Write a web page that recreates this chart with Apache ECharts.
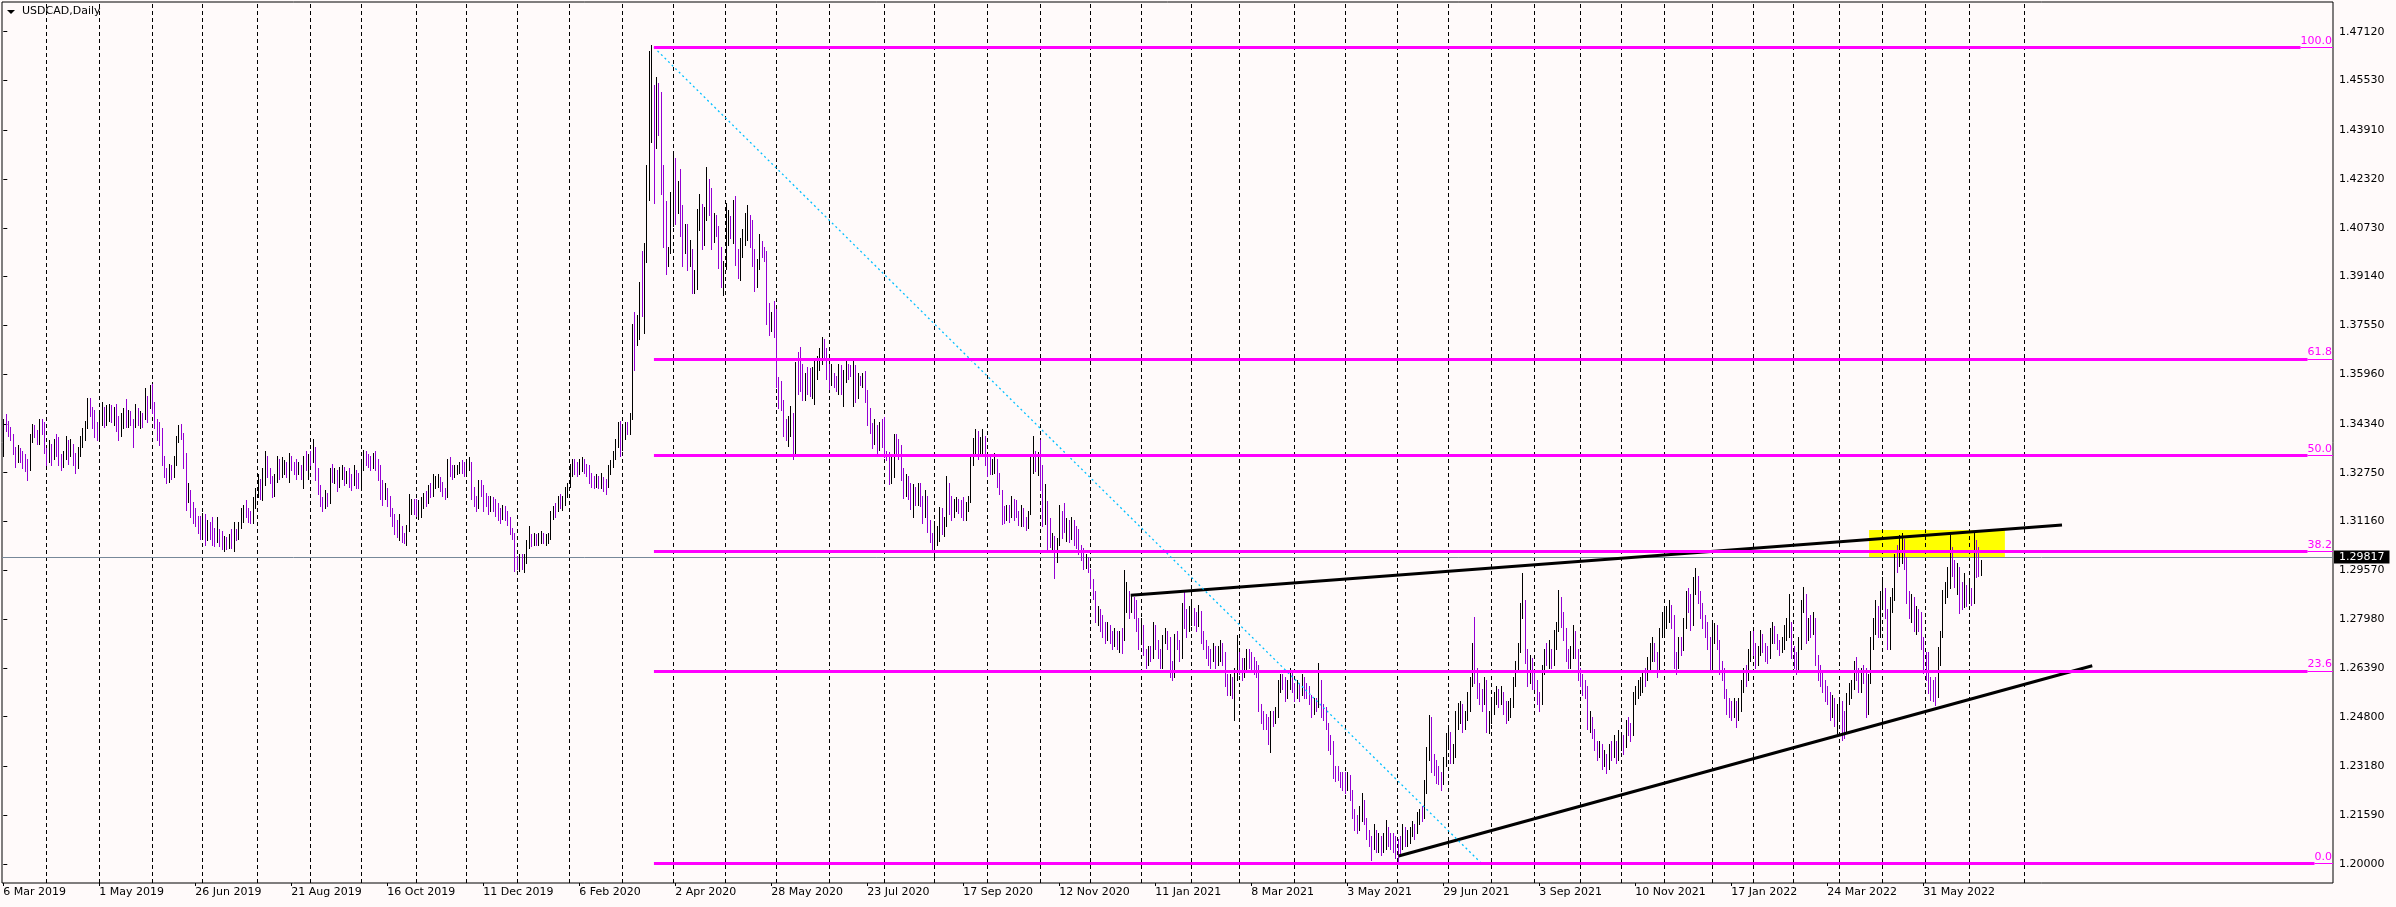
<!DOCTYPE html>
<html>
<head>
<meta charset="utf-8">
<title>USDCAD,Daily</title>
<script src="https://cdn.jsdelivr.net/npm/echarts@6/dist/echarts.min.js"></script>
<style>
html,body{margin:0;padding:0;background:#FFFAFA;}
#chart{width:2396px;height:907px;}
</style>
</head>
<body>
<div id="chart"></div>
<script>
// ================= DATA =================
const symbolTitle = 'USDCAD,Daily';
// time-scale labels, one every 40 bars starting at bar 0
const dateLabels = ['6 Mar 2019','1 May 2019','26 Jun 2019','21 Aug 2019','16 Oct 2019','11 Dec 2019','6 Feb 2020','2 Apr 2020','28 May 2020','23 Jul 2020','17 Sep 2020','12 Nov 2020','11 Jan 2021','8 Mar 2021','3 May 2021','29 Jun 2021','3 Sep 2021','10 Nov 2021','17 Jan 2022','24 Mar 2022','31 May 2022'];
const labelStep = 40;
// price-scale labels
const priceTickLabels = ['1.20000','1.21590','1.23180','1.24800','1.26390','1.27980','1.29570','1.31160','1.32750','1.34340','1.35960','1.37550','1.39140','1.40730','1.42320','1.43910','1.45530','1.47120'];
// bar index of each monthly period separator (Apr 2019 ... Aug 2022)
const monthStartBars = [18,40,62,83,106,128,149,172,193,214,236,258,279,301,322,344,367,388,410,432,453,474,495,515,538,559,581,602,620,638,657,674,692,712,729,746,765,783,801,819,842];

// Daily bars: [close, high, low] in pips above 1.20000 ; open = previous close
const firstOpenPips = 1335;
const bars2019 = [
// Mar
[1440,1450,1330],[1430,1467,1410],[1415,1445,1395],[1395,1425,1380],[1345,1400,1335],[1325,1360,1295],[1350,1365,1310],[1330,1355,1310],[1315,1345,1290],[1305,1335,1280],[1290,1320,1250],[1385,1400,1285],[1420,1435,1375],[1405,1430,1390],[1380,1415,1370],[1435,1450,1370],[1430,1450,1400],[1350,1440,1340],
// Apr
[1320,1355,1300],[1365,1380,1310],[1330,1370,1300],[1360,1385,1320],[1350,1400,1330],[1315,1390,1300],[1300,1335,1285],[1325,1345,1295],[1360,1395,1320],[1345,1380,1305],[1360,1385,1330],[1320,1370,1300],[1295,1340,1275],[1340,1360,1290],[1375,1395,1330],[1395,1420,1360],[1430,1445,1380],[1505,1520,1420],[1480,1520,1460],[1450,1490,1420],[1420,1478,1390],[1400,1440,1380],
// May
[1450,1475,1390],[1470,1505,1430],[1440,1490,1425],[1460,1495,1430],[1480,1500,1445],[1455,1495,1440],[1465,1490,1430],[1430,1500,1410],[1400,1460,1380],[1440,1470,1395],[1470,1485,1420],[1440,1515,1425],[1460,1480,1425],[1445,1475,1430],[1430,1450,1360],[1470,1500,1425],[1440,1485,1430],[1460,1475,1420],[1450,1470,1425],[1525,1550,1480],[1500,1525,1440],[1545,1560,1485],[1500,1565,1470],
// Jun
[1440,1505,1420],[1410,1450,1380],[1380,1440,1365],[1330,1420,1300],[1270,1330,1260],[1255,1290,1240],[1290,1305,1245],[1270,1300,1255],[1310,1330,1262],[1380,1395,1300],[1410,1430,1375],[1400,1435,1385],[1330,1405,1290],[1200,1340,1155],[1220,1240,1180],[1160,1215,1130],[1130,1180,1110],[1120,1160,1100],[1110,1135,1080],[1090,1135,1060],
// Jul
[1110,1145,1065],[1075,1140,1040],[1095,1120,1055],[1080,1115,1060],[1070,1130,1040],[1055,1095,1035],[1075,1130,1050],[1050,1090,1035],[1040,1085,1025],[1060,1070,1020],[1045,1065,1025],[1055,1075,1030],[1040,1090,1030],[1080,1115,1020],[1070,1090,1055],[1100,1115,1060],[1140,1160,1095],[1160,1170,1115],[1140,1185,1130],[1130,1160,1115],[1120,1150,1110],[1175,1195,1110],[1205,1225,1160],
// Aug
[1240,1270,1195],[1210,1255,1190],[1270,1290,1185],[1300,1345,1235],[1275,1330,1260],[1250,1290,1240],[1240,1265,1195],[1255,1270,1200],[1290,1330,1245],[1265,1320,1255],[1290,1325,1260],[1300,1315,1270],[1275,1310,1260],[1315,1340,1245],[1300,1330,1285],[1290,1310,1270],[1280,1320,1255],[1295,1310,1270],[1270,1300,1255],[1310,1330,1225],[1300,1345,1285],[1320,1335,1255],
// Sep
[1315,1345,1300],[1355,1385,1310],[1270,1360,1250],[1215,1290,1205],[1180,1235,1165],[1170,1195,1150],[1195,1220,1160],[1180,1210,1165],[1270,1290,1175],[1255,1305,1245],[1260,1290,1240],[1240,1285,1215],[1270,1295,1230],[1280,1300,1255],[1255,1295,1235],[1265,1280,1240],[1250,1290,1230],[1245,1270,1220],[1270,1300,1235],[1250,1285,1225],[1245,1275,1225],
// Oct
[1290,1320,1230],[1330,1348,1285],[1320,1345,1300],[1310,1335,1295],[1305,1330,1285],[1325,1340,1290],[1310,1345,1285],[1280,1320,1250],[1215,1300,1190],[1200,1250,1170],[1215,1240,1190],[1180,1225,1165],[1150,1200,1135],[1120,1160,1100],[1090,1140,1075],[1080,1120,1065],[1090,1140,1055],[1070,1100,1050],[1060,1080,1045],[1090,1105,1040],[1160,1205,1085],[1170,1190,1140],[1165,1190,1140],
// Nov
[1150,1190,1135],[1160,1185,1125],[1175,1195,1130],[1195,1210,1160],[1185,1215,1165],[1220,1235,1175],[1215,1240,1195],[1240,1270,1200],[1245,1265,1225],[1250,1270,1230],[1230,1260,1215],[1210,1245,1200],[1200,1225,1190],[1290,1320,1195],[1285,1325,1265],[1270,1300,1255],[1280,1300,1260],[1285,1300,1270],[1300,1310,1275],[1290,1315,1275],[1285,1310,1265],
// Dec
[1300,1320,1275],[1310,1325,1285],[1205,1310,1190],[1180,1230,1165],[1170,1200,1150],[1240,1250,1160],[1225,1250,1200],[1195,1235,1150],[1190,1210,1165],[1160,1200,1140],[1185,1200,1150],[1175,1195,1150],[1150,1190,1135],[1140,1175,1120],[1130,1160,1110],[1155,1170,1125],[1140,1165,1120],[1120,1150,1105],[1090,1130,1075],[1075,1095,1060],[985,1080,955]
];
const bars2020 = [
// Jan
[975,1005,960],[990,1010,955],[985,1010,960],[990,1010,951],[1040,1055,980],[1060,1100,1030],[1055,1075,1035],[1065,1080,1040],[1055,1075,1040],[1060,1080,1040],[1065,1085,1045],[1055,1080,1045],[1060,1075,1040],[1070,1080,1045],[1140,1150,1060],[1150,1165,1125],[1150,1175,1130],[1190,1200,1150],[1175,1205,1160],[1185,1200,1155],[1220,1230,1170],[1230,1240,1195],
// Feb
[1285,1305,1230],[1300,1320,1265],[1290,1320,1270],[1280,1310,1265],[1300,1320,1270],[1310,1325,1280],[1290,1320,1275],[1285,1305,1265],[1265,1300,1240],[1245,1275,1230],[1240,1265,1225],[1250,1270,1230],[1240,1265,1225],[1255,1275,1225],[1240,1260,1215],[1230,1255,1205],[1275,1300,1230],[1300,1315,1270],[1330,1345,1295],[1370,1385,1320],[1420,1440,1360],[1360,1445,1330],
// Mar
[1395,1420,1350],[1425,1440,1385],[1415,1440,1400],[1450,1470,1400],[1720,1760,1450],[1700,1798,1611],[1780,1790,1690],[1880,1897,1711],[1830,1997,1785],[1990,2022,1729],[2250,2277,1960],[2500,2650,2165],[2530,2669,2352],[2350,2538,2153],[2480,2563,2333],[2420,2545,2377],[2250,2514,2184],[2080,2277,2009],[1960,2159,1922],[2000,2009,1950],[2150,2190,1990],
// Apr
[2230,2320,2080],[2150,2300,2084],[2190,2227,2120],[2100,2265,2047],[1990,2146,1947],[2040,2084,1990],[1960,2084,1935],[1990,2034,1947],[1900,2003,1860],[1920,1935,1860],[2110,2134,1873],[2150,2184,2065],[2030,2140,2003],[2100,2140,2016],[2220,2271,2115],[2150,2233,2115],[2060,2202,2003],[2090,2121,2028],[2070,2115,2047],[1990,2078,1941],[1900,2009,1879],[1940,1966,1854],
// May
[2080,2153,2040],[2110,2130,2016],[2060,2110,2040],[2140,2165,2022],[1980,2177,1953],[1930,2003,1910],[2000,2040,1904],[2050,2070,1978],[2100,2121,2016],[2110,2146,2034],[2040,2115,2010],[1960,2097,1947],[1900,2003,1866],[1950,1972,1880],[2030,2053,1940],[2000,2025,1978],[1980,2009,1966],[1780,1997,1760],[1760,1829,1723],[1780,1800,1736],[1745,1835,1717],
// Jun
[1580,1810,1555],[1520,1586,1487],[1490,1574,1480],[1420,1512,1393],[1400,1449,1380],[1440,1460,1362],[1470,1493,1393],[1340,1470,1319],[1600,1636,1340],[1570,1667,1530],[1560,1686,1540],[1540,1630,1512],[1580,1599,1512],[1550,1620,1530],[1545,1615,1525],[1590,1620,1520],[1610,1640,1500],[1640,1655,1580],[1660,1680,1610],[1700,1717,1630],[1680,1710,1650],[1600,1665,1580],
// Jul
[1570,1630,1549],[1600,1630,1560],[1560,1590,1555],[1550,1590,1540],[1580,1630,1530],[1550,1625,1530],[1600,1610,1493],[1620,1640,1570],[1610,1630,1580],[1600,1625,1590],[1620,1648,1493],[1560,1625,1505],[1590,1600,1520],[1570,1590,1560],[1590,1600,1555],[1520,1605,1505],[1460,1543,1431],[1420,1487,1406],[1380,1437,1356],[1420,1450,1370],[1400,1430,1340],[1430,1440,1350],[1390,1450,1360],
// Aug
[1340,1455,1325],[1330,1345,1315],[1250,1343,1238],[1270,1330,1240],[1390,1400,1260],[1370,1400,1330],[1340,1385,1320],[1280,1365,1250],[1210,1290,1194],[1260,1270,1200],[1220,1265,1190],[1180,1240,1157],[1220,1238,1132],[1200,1230,1170],[1230,1240,1170],[1180,1240,1165],[1150,1200,1110],[1200,1220,1130],[1100,1180,1082],[1070,1120,1050],[1040,1080,1020],
// Sep
[1060,1119,989],[1070,1101,1040],[1140,1163,1051],[1095,1160,1075],[1110,1130,1070],[1220,1263,1100],[1160,1240,1140],[1140,1200,1120],[1170,1190,1130],[1185,1195,1150],[1160,1190,1145],[1150,1185,1130],[1130,1195,1120],[1170,1180,1120],[1180,1200,1150],[1300,1325,1182],[1340,1387,1300],[1360,1418,1340],[1330,1410,1320],[1350,1390,1330],[1380,1418,1340],[1320,1395,1300],
// Oct
[1290,1337,1263],[1280,1330,1270],[1310,1320,1270],[1320,1340,1275],[1250,1300,1230],[1220,1275,1207],[1140,1206,1107],[1130,1165,1110],[1150,1170,1120],[1140,1170,1115],[1180,1200,1130],[1170,1190,1120],[1140,1185,1130],[1120,1150,1105],[1150,1170,1100],[1110,1160,1100],[1095,1130,1088],[1140,1150,1110],[1320,1337,1169],[1340,1393,1275],[1320,1345,1280],[1335,1343,1269],
// Nov
[1240,1381,1219],[1160,1300,1101],[1180,1238,1107],[1100,1182,1026],[1060,1126,1032],[1070,1080,1020],[1010,1063,933],[1050,1063,983],[1140,1169,1040],[1130,1151,1063],[1090,1176,1082],[1100,1126,1051],[1080,1120,1050],[1110,1130,1060],[1080,1120,1040],[1060,1100,1030],[1040,1090,1010],[1010,1040,989],[980,1030,960],[990,1010,965],[960,1000,950],
// Dec
[920,960,900],[880,930,865],[800,890,790],[810,840,780],[790,830,760],[770,810,740],[745,790,720],[770,790,730],[740,780,720],[730,760,700],[745,770,710],[720,760,700],[745,760,690],[730,770,686],[850,958,730],[880,920,820],[840,890,800],[860,875,820],[845,870,800],[790,860,760],[725,800,700]
];
const bars2021 = [
// Jan
[770,800,730],[690,780,680],[660,700,640],[690,710,650],[680,710,660],[770,790,670],[710,780,700],[690,730,670],[650,700,640],[730,745,640],[750,770,720],[730,760,700],[630,740,610],[620,660,600],[740,750,610],[720,760,700],[680,730,660],[820,850,670],[790,887,770],[785,830,741],[810,840,760],
// Feb
[815,850,780],[800,835,780],[790,820,760],[820,845,775],[740,825,720],[720,760,700],[690,730,670],[680,710,650],[680,700,640],[700,720,660],[670,710,640],[690,710,650],[710,730,660],[680,720,650],[600,690,580],[580,620,550],[600,620,550],[570,610,540],[620,640,469],[690,746,600],
// Mar
[650,690,620],[620,670,600],[650,670,610],[680,700,630],[660,700,640],[660,690,630],[640,675,620],[640,660,610],[510,650,500],[480,520,460],[470,500,440],[470,490,440],[420,480,390],[480,500,365],[480,500,450],[490,510,460],[580,600,480],[600,620,560],[590,620,570],[550,610,530],[580,600,540],[620,640,570],[570,630,560],
// Apr
[560,590,530],[570,600,540],[560,590,530],[600,620,550],[560,610,540],[560,590,540],[540,580,520],[500,550,480],[520,540,490],[520,540,500],[590,654,510],[500,600,480],[500,520,470],[460,510,440],[390,460,370],[390,420,360],[300,400,280],[290,320,270],[290,320,274],[280,300,250],[270,300,240],
// May
[260,300,230],[280,300,240],[230,290,210],[170,240,150],[140,180,110],[120,160,100],[150,190,110],[200,230,140],[150,210,130],[100,150,80],[80,110,60],[60,90,13],[100,130,50],[60,110,40],[75,100,40],[50,90,30],[60,100,40],[120,143,50],[80,120,60],[70,100,50],[70,100,40],[65,90,20],
// Jun
[60,80,7],[60,90,30],[110,130,50],[80,120,60],[90,110,60],[100,120,70],[120,140,90],[100,130,80],[150,170,100],[160,180,130],[160,190,140],[240,274,150],[360,380,230],[470,486,339],[320,480,300],[320,360,290],[280,340,263],[280,320,260],[270,300,240],[330,350,260],[390,426,320],
// Jul
[420,450,380],[350,430,330],[360,390,330],[470,500,350],[480,523,440],[500,530,460],[450,520,430],[480,500,440],[520,560,470],[580,610,500],[700,720,580],[610,806,589],[560,640,540],[550,590,520],[530,570,500],[590,610,520],[450,600,430],[480,500,426],
// Aug
[500,530,460],[540,560,490],[560,580,520],[540,570,510],[550,580,520],[520,560,490],[490,530,460],[500,530,470],[520,540,480],[590,610,510],[640,660,580],[700,720,630],[830,850,690],[850,947,800],[690,860,654],[610,700,580],[650,680,590],[610,670,570],
// Sep
[590,630,570],[540,600,520],[530,560,500],[630,650,520],[680,700,620],[670,720,650],[690,730,640],[660,700,640],[710,763,650],[760,790,700],[840,893,760],[800,870,773],[760,820,730],[680,770,660],[660,700,640],[680,710,640],[750,780,670],[690,760,670],[640,700,600],
// Oct
[600,640,580],[580,620,550],[560,600,540],[460,580,440],[470,500,430],[430,480,410],[390,440,370],[370,400,340],[380,400,350],[340,390,310],[350,370,320],[320,360,295],[370,390,310],[370,400,340],[390,420,350],[360,400,330],[380,437,340],
// Nov
[400,430,370],[390,420,360],[450,470,380],[440,480,420],[430,460,400],[540,560,420],[550,580,520],[570,600,540],[580,610,550],[610,630,560],[600,640,580],[640,675,600],[690,720,630],[700,740,660],[680,720,660],[630,690,610],[740,770,630],[780,820,740],
// Dec
[790,830,750],[810,840,770],[830,860,790],[800,845,770],[660,810,640],[650,690,620],[720,740,640],[700,740,680],[780,800,697],[860,890,770],[850,900,820],[790,880,763],[890,936,780],[930,963,880],[880,940,850],[820,890,800],[800,849,770],[780,810,740],[730,790,700],[640,740,632]
];
const bars2022 = [
// Jan
[740,784,630],[760,784,720],[720,780,700],[640,730,620],[630,660,600],[560,640,540],[510,570,490],[505,540,480],[500,530,470],[520,540,480],[480,530,448],[520,540,470],[580,600,500],[620,640,560],[610,650,580],[680,700,600],[740,760,660],
// Feb
[710,760,680],[660,720,640],[690,710,650],[730,763,680],[710,750,690],[690,720,660],[680,710,655],[740,770,670],[760,790,720],[740,775,720],[720,750,700],[700,730,680],[720,740,690],[750,780,700],[770,800,730],[780,880,740],[690,790,670],
// Mar
[660,710,640],[640,690,620],[710,740,630],[840,860,700],[870,904,820],[750,880,720],[780,800,730],[770,810,740],[790,820,750],[670,800,650],[620,680,600],[610,650,580],[580,630,560],[560,600,530],[550,580,520],[490,560,470],[530,550,480],[480,540,450],[500,520,426],
// Apr
[510,540,480],[470,530,404],[440,500,410],[530,556,430],[560,590,520],[580,600,540],[630,660,570],[620,675,600],[580,640,560],[620,640,560],[620,650,590],[500,640,480],[600,620,490],[720,740,590],[770,800,700],[820,860,750],[760,840,740],[860,890,740],
// May
[880,936,840],[820,900,800],[720,830,700],[840,870,700],[870,900,820],[990,1010,860],[990,1040,950],[1020,1072,970],[1050,1077,980],[990,1060,960],[870,1000,850],[830,890,800],[860,880,790],[780,870,760],[810,840,750],[800,830,760],[720,820,700],[650,740,621],
// Jun
[620,690,600],[590,690,556],[570,610,534],[560,600,530],[545,610,518],[660,708,545],[740,760,650],[860,893,740],[880,920,850],[900,969,870],[1020,1077,900],[970,1034,940],[930,990,904],[950,980,880],[880,969,817],[860,920,830],[880,947,839],[870,910,840],
// Jul
[880,920,850],[860,900,844],[1040,1077,850],[990,1056,936],[950,1034,940],[981.7,990,942]
];

// Drawn objects, anchored as [bar index, price]
const fibAnchors = [[271.1, 1.46610], [615.9, 1.20020]];   // 100% point, 0% point
const fibLevels = [0, 23.6, 38.2, 50, 61.8, 100];
const upperTrend = [[469.75, 1.28755], [857.8, 1.31046]];
const lowerTrend = [[581.4, 1.20261], [870.4, 1.26461]];
const resistanceZone = [[777.4, 1.30003], [834.0, 1.30883]];

// ================= BUILD =================
const PIP = 0.0001, BASE = 1.2;
const X_MIN = -0.54, X_MAX = 970.71;
const Y_MIN = 1.193809, Y_MAX = 1.480878;
const GRID = {left: 2, right: 63, top: 2, bottom: 24};
const PLOT_W = 2396 - GRID.left - GRID.right;
const pxPerBar = PLOT_W / (X_MAX - X_MIN);
const FONT = '"DejaVu Sans", Verdana, sans-serif';
const UP_COLOR = '#000000', DOWN_COLOR = '#9400D3';

const allBars = [].concat(bars2019, bars2020, bars2021, bars2022);
const candles = [];
let prevClose = BASE + firstOpenPips * PIP;
allBars.forEach(function (b, i) {
  const o = prevClose;
  const c = BASE + b[0] * PIP, h = BASE + b[1] * PIP, l = BASE + b[2] * PIP;
  candles.push([i, o, c, Math.min(l, o, c), Math.max(h, o, c)]);
  prevClose = c;
});
const lastClose = prevClose;

const labelBars = dateLabels.map(function (_, k) { return k * labelStep; });
const yTicks = priceTickLabels.map(Number);

// Fibonacci levels
const measure = document.createElement('canvas').getContext('2d');
measure.font = '11px ' + FONT;
const fibHigh = fibAnchors[0][1], fibLow = fibAnchors[1][1];
const fibLines = [];
fibLevels.forEach(function (lv) {
  const price = fibLow + (fibHigh - fibLow) * lv / 100;
  const txt = lv.toFixed(1);
  const lblBars = (measure.measureText(txt).width + 1) / pxPerBar;
  const split = X_MAX - lblBars;
  fibLines.push([{coord: [fibAnchors[0][0], price], lineStyle: {width: 3}}, {coord: [split, price]}]);
  fibLines.push([{coord: [split, price], lineStyle: {width: 1},
    label: {show: true, formatter: txt, position: 'insideEndTop', distance: 1,
      color: '#FF00FF', fontSize: 11, fontFamily: FONT}}, {coord: [X_MAX, price]}]);
});

// MT4-style bar at this zoom: a crisp 1px line from low to high, coloured by direction
function renderBar(params, api) {
  const x = api.value(0), o = api.value(1), c = api.value(2), l = api.value(3), h = api.value(4);
  const top = api.coord([x, h]), bot = api.coord([x, l]);
  const px = Math.round(top[0]) + 0.5;
  return {
    type: 'line',
    shape: {x1: px, y1: Math.round(top[1]), x2: px, y2: Math.round(bot[1]) + 1},
    style: {stroke: c > o ? UP_COLOR : DOWN_COLOR, lineWidth: 1}
  };
}

const chart = echarts.init(document.getElementById('chart'), null, {renderer: 'canvas'});
const option = {
  backgroundColor: '#FFFAFA',
  animation: false,
  textStyle: {fontFamily: FONT},
  grid: {left: GRID.left, right: GRID.right, top: GRID.top, bottom: GRID.bottom, show: true,
    borderColor: '#000', borderWidth: 1, backgroundColor: 'transparent', outerBoundsMode: 'none'},
  xAxis: {
    type: 'value', min: X_MIN, max: X_MAX,
    axisLine: {show: false}, splitLine: {show: false},
    axisTick: {show: true, customValues: labelBars, length: 3, lineStyle: {color: '#000'}},
    axisLabel: {customValues: labelBars, formatter: function (v) { return dateLabels[Math.round(v / labelStep)]; },
      align: 'left', color: '#000', fontSize: 11, fontFamily: FONT, margin: 4}
  },
  yAxis: {
    type: 'value', position: 'right', min: Y_MIN, max: Y_MAX, z: 0,
    axisLine: {show: false}, splitLine: {show: false},
    axisTick: {show: true, customValues: yTicks, length: 4, lineStyle: {color: '#000'}},
    axisLabel: {customValues: yTicks, formatter: function (v) { return v.toFixed(5); },
      color: '#000', fontSize: 11, fontFamily: FONT, margin: 6}
  },
  graphic: [
    {type: 'polygon', shape: {points: [[7, 10], [15, 10], [11, 14]]}, style: {fill: '#000'}, z: 10},
    {type: 'text', left: 22, top: 6, style: {text: symbolTitle, font: '11px ' + FONT, fill: '#000'}, z: 10}
  ],
  series: [
    { // period separators
      type: 'line', data: [], silent: true,
      markLine: {silent: true, symbol: 'none', z: 1, label: {show: false},
        lineStyle: {color: '#000', width: 1, type: [4, 3]},
        emphasis: {disabled: true},
        data: monthStartBars.map(function (b) { return {xAxis: b}; })}
    },
    { // yellow zone
      type: 'line', data: [], silent: true,
      markArea: {silent: true, z: 1, itemStyle: {color: '#FFFF00', opacity: 1},
        data: [[{coord: resistanceZone[0]}, {coord: resistanceZone[1]}]]}
    },
    { // bid line
      type: 'line', data: [], silent: true,
      markLine: {silent: true, symbol: 'none', z: 2, emphasis: {disabled: true},
        lineStyle: {color: '#778899', width: 1, type: 'solid'},
        label: {show: true, position: 'end', distance: 1, formatter: lastClose.toFixed(5),
          backgroundColor: '#000', color: '#fff', fontSize: 11, fontFamily: FONT,
          padding: [1, 5, 1, 5], lineHeight: 11},
        data: [{yAxis: lastClose}]}
    },
    { // price bars
      type: 'custom', z: 3, silent: true,
      renderItem: renderBar,
      encode: {x: 0, y: [3, 4]},
      data: candles
    },
    { // trend lines + fibo base line
      type: 'line', data: [], silent: true,
      markLine: {silent: true, symbol: 'none', z: 4, label: {show: false}, emphasis: {disabled: true},
        data: [
          [{coord: upperTrend[0], lineStyle: {color: '#000', width: 3, type: 'solid'}}, {coord: upperTrend[1]}],
          [{coord: lowerTrend[0], lineStyle: {color: '#000', width: 3, type: 'solid'}}, {coord: lowerTrend[1]}],
          [{coord: fibAnchors[0], lineStyle: {color: '#00BFFF', width: 1.3, type: [2, 3]}}, {coord: fibAnchors[1]}]
        ]}
    },
    { // fibonacci levels
      type: 'line', data: [], silent: true,
      markLine: {silent: true, symbol: 'none', z: 5, emphasis: {disabled: true},
        lineStyle: {color: '#FF00FF', type: 'solid'}, label: {show: false},
        data: fibLines}
    }
  ]
};
chart.setOption(option);
</script>
</body>
</html>
